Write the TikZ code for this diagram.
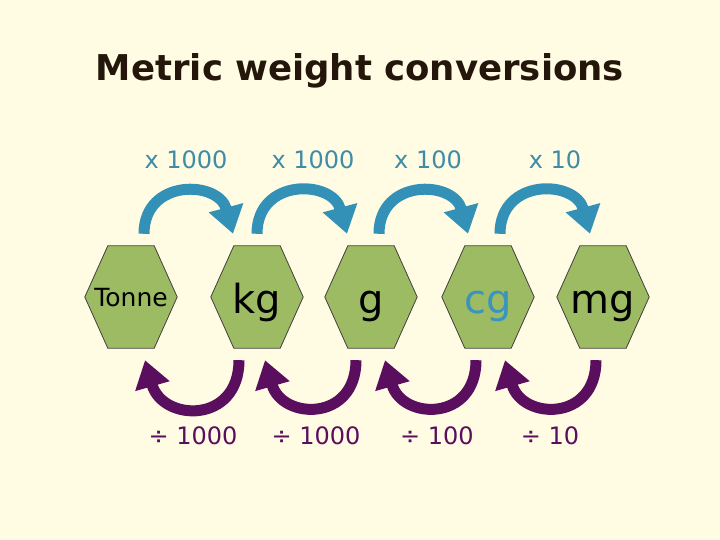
\documentclass[tikz,border=0pt]{standalone}
\usepackage{fontspec}
\setmainfont{DejaVu Sans}
\usetikzlibrary{arrows.meta,backgrounds}

\definecolor{pagebg}{HTML}{FFFCE3}
\definecolor{titlebrown}{HTML}{24160A}
\definecolor{hexgreen}{HTML}{9DBB62}
\definecolor{mulblue}{HTML}{3D8CA8}
\definecolor{arrowblue}{HTML}{3391B8}
\definecolor{cgblue}{HTML}{3A94C0}
\definecolor{divpurple}{HTML}{5A0E5E}

\tikzset{
  unit/.style={minimum width=92pt, minimum height=102pt, inner sep=0pt,
    text height=40pt, text depth=6pt, font=\fontsize{40}{48}\selectfont},
  hexa/.style={fill=hexgreen, draw=black!75, line width=0.8pt},
  titletext/.style={anchor=base, text=titlebrown, font=\bfseries\fontsize{35.5}{40}\selectfont},
  mullabel/.style={anchor=base, text=mulblue, font=\fontsize{24}{28}\selectfont},
  divlabel/.style={anchor=base, text=divpurple, font=\fontsize{24}{28}\selectfont},
  mularrow/.style={draw=arrowblue, line width=11pt, -{Triangle[length=27pt,width=34pt]}, looseness=1.6},
  divarrow/.style={draw=divpurple, line width=11pt, -{Triangle[length=27pt,width=34pt]}, looseness=1.75},
}

\begin{document}
\begin{tikzpicture}[x=1pt,y=1pt]
      \begin{scope}[on background layer]
        \fill[pagebg] (0,0) rectangle (720,540);
      \end{scope}

      \node[titletext] (title) at (360,459) {Metric weight conversions};

      \node[unit, text height=30pt, text depth=10pt, font=\fontsize{25}{30}\selectfont] (ton) at (131,243) {Tonne};
      \node[unit] (kg) at (257,243) {kg};
      \node[unit] (gr) at (371,243) {g};
      \node[unit, text=cgblue] (cg) at (488,243) {cg};
      \node[unit] (mg) at (603,243) {mg};

      \begin{scope}[on background layer]
        \foreach \h in {ton,kg,gr,cg,mg}
          \filldraw[hexa] (\h.west) -- ([xshift=23pt]\h.north west) -- ([xshift=-23pt]\h.north east)
            -- (\h.east) -- ([xshift=-23pt]\h.south east) -- ([xshift=23pt]\h.south west) -- cycle;
      \end{scope}

      \node[mullabel] (m1) at (186,371) {x 1000};
      \node[mullabel] (m2) at (313,371) {x 1000};
      \node[mullabel] (m3) at (428,371) {x 100};
      \node[mullabel] (m4) at (555,371) {x 10};

      \node[divlabel] (d1) at (193,95) {÷ 1000};
      \node[divlabel] (d2) at (316,95) {÷ 1000};
      \node[divlabel] (d3) at (437,95) {÷ 100};
      \node[divlabel] (d4) at (550,95) {÷ 10};

      \draw[mularrow] ([shift={(13,12)}]ton.north) to[out=90,in=105] ([shift={(-24,12)}]kg.north);
      \draw[mularrow] ([shift={(0,12)}]kg.north) to[out=90,in=105] ([shift={(-24,12)}]gr.north);
      \draw[mularrow] ([shift={(8,12)}]gr.north) to[out=90,in=105] ([shift={(-20,12)}]cg.north);
      \draw[mularrow] ([shift={(12,12)}]cg.north) to[out=90,in=105] ([shift={(-13,12)}]mg.north);

      \draw[divarrow] ([shift={(-18,-12)}]kg.south) to[out=-90,in=-74] ([shift={(14,-12)}]ton.south);
      \draw[divarrow] ([shift={(-15,-12)}]gr.south) to[out=-90,in=-74] ([shift={(8,-12)}]kg.south);
      \draw[divarrow] ([shift={(-12,-12)}]cg.south) to[out=-90,in=-74] ([shift={(14,-12)}]gr.south);
      \draw[divarrow] ([shift={(-7,-12)}]mg.south) to[out=-90,in=-74] ([shift={(17,-12)}]cg.south);
    \end{tikzpicture}
\end{document}
